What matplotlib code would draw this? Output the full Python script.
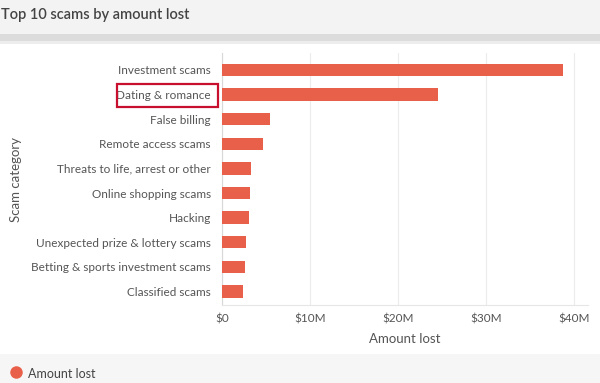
import matplotlib
matplotlib.use("Agg")
import matplotlib.pyplot as plt
from matplotlib.patches import Rectangle
from matplotlib.lines import Line2D
from matplotlib.ticker import FuncFormatter

categories = ["Investment scams", "Dating & romance", "False billing", "Remote access scams",
              "Threats to life, arrest or other", "Online shopping scams", "Hacking",
              "Unexpected prize & lottery scams", "Betting & sports investment scams",
              "Classified scams"]
amounts = [38.8e6, 24.5e6, 5.45e6, 4.7e6, 3.35e6, 3.2e6, 3.1e6, 2.75e6, 2.6e6, 2.35e6]
xticks = [0, 10e6, 20e6, 30e6, 40e6]
title = "Top 10 scams by amount lost"
xlabel = "Amount lost"
ylabel = "Scam category"
legend_label = "Amount lost"

W, H = 600, 383
plt.rcParams['font.family'] = ['Lato', 'DejaVu Sans']
fig = plt.figure(figsize=(W / 100, H / 100), dpi=100)
fig.patch.set_facecolor("white")

def fr(x, y, w, h, color):
    fig.patches.append(Rectangle((x / W, 1 - (y + h) / H), w / W, h / H,
                                 transform=fig.transFigure, facecolor=color,
                                 edgecolor="none", zorder=0))

fr(0, 0, W, 34, "#f3f3f3")
fr(0, 34, W, 7, "#dcdcdc")
fr(0, 41, W, 3, "#ededed")
fr(0, 354, W, 29, "#f6f6f6")

fig.text(1 / W, 1 - 15 / H, title, fontsize=10.5, color="#444444", va="center", ha="left",
         fontweight="semibold")

ax = fig.add_axes([222 / W, 1 - 305 / H, (588 - 222) / W, (305 - 53) / H])
ax.set_facecolor("white")
ypos = list(range(len(categories)))
ax.barh(ypos, amounts, height=0.5, color="#e8604a", zorder=3)
ax.set_ylim(9.55, -0.69)
ax.set_xlim(0, 41.6e6)
ax.set_xticks(xticks)
ax.xaxis.set_major_formatter(FuncFormatter(lambda v, p: "$0" if v == 0 else f"${v/1e6:.0f}M"))
ax.set_yticks(ypos)
ax.set_yticklabels(categories)
ax.tick_params(axis="both", length=0, labelsize=8.5, labelcolor="#555555")
ax.tick_params(axis="y", pad=8)
ax.tick_params(axis="x", pad=6)
ax.grid(axis="x", color="#ececec", linewidth=0.8, zorder=0)
for s in ["top", "right"]:
    ax.spines[s].set_visible(False)
ax.spines["left"].set_color("#d8d8d8")
ax.spines["bottom"].set_color("#e6e6e6")
ax.set_xlabel(xlabel, fontsize=9.5, color="#555555", labelpad=6)
fig.text(16 / W, 1 - 180 / H, ylabel, rotation=90, fontsize=9.5, color="#555555",
         ha="center", va="center")

# red highlight box around "Dating & romance"
fig.patches.append(Rectangle((117 / W, 1 - 107 / H), (218 - 117) / W, (107 - 84) / H,
                             transform=fig.transFigure, facecolor="none",
                             edgecolor="#c8102e", linewidth=1.6, zorder=5))

# legend in footer
fig.add_artist(Line2D([16 / W], [1 - 372 / H], transform=fig.transFigure, marker="o",
                      markersize=9, markerfacecolor="#e8604a", markeredgecolor="none",
                      linestyle="none"))
fig.text(28 / W, 1 - 374 / H, legend_label, fontsize=9, color="#444444", va="center", ha="left")

fig.savefig("out.png", dpi=100)
